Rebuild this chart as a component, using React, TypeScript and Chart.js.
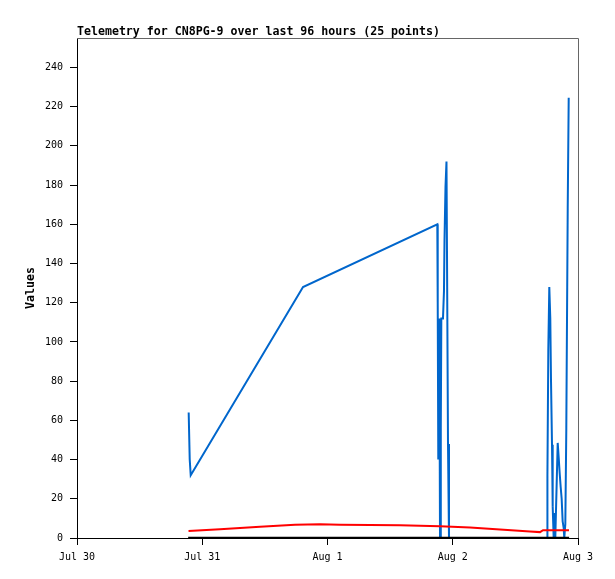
import React, { useEffect, useRef } from "react";
import { Chart, registerables } from "chart.js";

Chart.register(...registerables);

const TITLE = "Telemetry for CN8PG-9 over last 96 hours (25 points)";
const Y_TITLE = "Values";
const X_TICK_LABELS = ["Jul 30", "Jul 31", "Aug 1", "Aug 2", "Aug 3"];
const X_MAX_HOURS = 96;
const Y_MAX = 255;
const Y_STEP = 20;

// hours since Jul 30 00:00
const blueHours = [
  21.4, 21.6, 21.79, 43.31, 69.04, 69.12, 69.23, 69.42, 69.56, 69.71, 69.81,
  70.13, 70.32, 70.42, 70.61, 70.8, 70.9, 71.09, 71.28, 90.12, 90.14, 90.31,
  90.5, 90.69, 90.83, 91.02, 91.15, 91.34, 91.46, 91.65, 92.11, 92.3, 92.49,
  92.68, 92.87, 93.06, 93.26, 93.37, 93.57, 93.76, 94.03, 94.22,
];
const blueValues = [
  64, 40, 32, 128, 160, 120, 40, 112, 0, 56, 112,
  112, 126, 152, 179, 192, 144, 48, 0, 0, 32, 96,
  128, 112, 80, 47.5, 16, 0, 12.8, 0, 48.5, 41, 33,
  26, 20, 8.5, 5, 0, 7, 56, 168, 224.5,
];

const redHours = [
  21.37, 27.4, 35.07, 41.77, 46.56, 50.4, 61.89, 69.56, 75.31, 81.06, 86.8,
  88.72, 89.3, 94.28,
];
const redValues = [3.6, 4.5, 5.8, 6.8, 7.0, 6.8, 6.5, 6.0, 5.3, 4.3, 3.3, 3.0, 4.0, 4.0];

const blackHours = [21.3, 94.3];
const blackValues = [0, 0];

const toXY = (xs: number[], ys: number[]) => xs.map((x, i) => ({ x, y: ys[i] }));

const MONO = '"DejaVu Sans Mono", "Liberation Mono", monospace';

const titlePlugin = {
  id: "leftTitle",
  afterDraw(chart: any) {
    const { ctx, chartArea } = chart;
    ctx.save();
    // frame: top and right in gray
    ctx.strokeStyle = "#666";
    ctx.lineWidth = 1;
    ctx.beginPath();
    ctx.moveTo(chartArea.left, chartArea.top + 0.5);
    ctx.lineTo(chartArea.right + 0.5, chartArea.top + 0.5);
    ctx.lineTo(chartArea.right + 0.5, chartArea.bottom);
    ctx.stroke();
    ctx.font = `bold 11.6px ${MONO}`;
    ctx.fillStyle = "#000";
    ctx.textAlign = "left";
    ctx.textBaseline = "alphabetic";
    ctx.fillText(TITLE, chartArea.left, chartArea.top - 3);
    ctx.restore();
  },
};

export default function App() {
  const ref = useRef<HTMLCanvasElement | null>(null);

  useEffect(() => {
    if (!ref.current) return;
    const chart = new Chart(ref.current, {
      type: "line",
      data: {
        datasets: [
          {
            data: toXY(blackHours, blackValues),
            borderColor: "#000000",
            borderWidth: 2.5,
            pointRadius: 0,
            tension: 0,
          },
          {
            data: toXY(redHours, redValues),
            borderColor: "#ff0000",
            borderWidth: 2,
            pointRadius: 0,
            tension: 0,
          },
          {
            data: toXY(blueHours, blueValues),
            borderColor: "#0066cc",
            borderWidth: 2,
            pointRadius: 0,
            tension: 0,
          },
        ],
      },
      options: {
        animation: false,
        responsive: false,
        layout: { padding: { left: 0, top: 38, right: 37, bottom: 0 } },
        plugins: {
          legend: { display: false },
          title: { display: false },
          tooltip: { enabled: false },
        },
        scales: {
          x: {
            type: "linear",
            min: 0,
            max: X_MAX_HOURS,
            afterFit: (scale: any) => {
              scale.height = 41;
            },
            ticks: {
              stepSize: 24,
              color: "#000",
              font: { family: MONO, size: 10 },
              padding: 6,
              maxRotation: 0,
              callback: (v: any) => X_TICK_LABELS[Math.round(Number(v) / 24)] ?? "",
            },
            grid: {
              drawOnChartArea: false,
              drawTicks: true,
              tickLength: 7,
              color: "#000",
            },
            border: { display: true, color: "#000", width: 1 },
          },
          y: {
            type: "linear",
            min: 0,
            max: Y_MAX,
            afterFit: (scale: any) => {
              scale.width = 77;
            },
            afterBuildTicks: (scale: any) => {
              scale.ticks = scale.ticks.filter((t: any) => t.value % Y_STEP === 0);
            },
            ticks: {
              stepSize: Y_STEP,
              color: "#000",
              font: { family: MONO, size: 10 },
              padding: 7,
            },
            grid: {
              drawOnChartArea: false,
              drawTicks: true,
              tickLength: 7,
              color: "#000",
            },
            border: { display: true, color: "#000", width: 1 },
            title: {
              display: true,
              text: Y_TITLE,
              color: "#000",
              font: { family: MONO, size: 11.6, weight: "bold" },
              padding: { top: 24, bottom: 0 },
            },
          },
        },
      },
      plugins: [titlePlugin],
    });
    return () => chart.destroy();
  }, []);

  return (
    <div style={{ position: "fixed", left: 0, top: 0, width: 615, height: 579, background: "#fff" }}>
      <canvas ref={ref} width={615} height={579} style={{ width: 615, height: 579, display: "block" }} />
    </div>
  );
}
